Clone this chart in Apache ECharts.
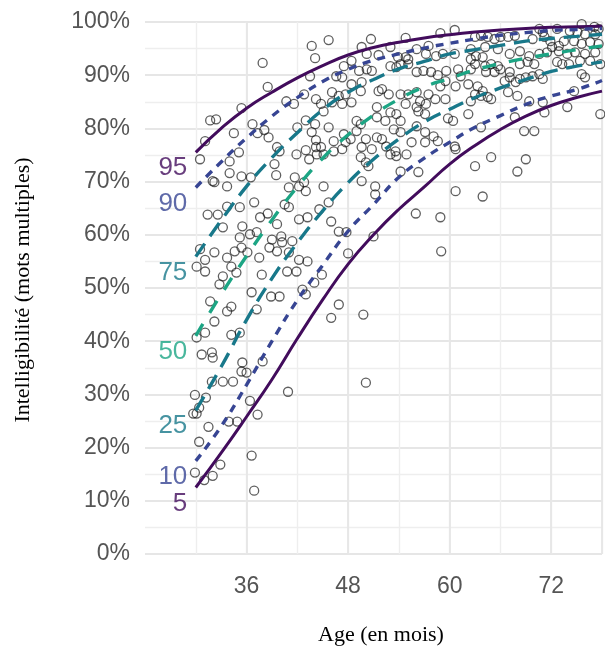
<!DOCTYPE html>
<html><head><meta charset="utf-8">
<script src="https://cdn.jsdelivr.net/npm/echarts@6/dist/echarts.min.js"></script>
<style>html,body{margin:0;padding:0;background:#fff}#c{width:605px;height:648px}</style>
</head><body><div id="c"></div><script>
// ---- data ----
const curveAges = [30,33,36,39,42,45,48,51,54,57,60,63,66,69,72,75,78];
const p95 = [0.755,0.800,0.838,0.868,0.895,0.918,0.938,0.952,0.962,0.970,0.976,0.981,0.985,0.988,0.990,0.991,0.992];
const p90 = [0.689,0.737,0.782,0.823,0.858,0.888,0.911,0.928,0.940,0.951,0.960,0.968,0.975,0.980,0.984,0.986,0.988];
const p75 = [0.559,0.627,0.691,0.745,0.792,0.835,0.868,0.892,0.912,0.926,0.940,0.948,0.956,0.964,0.969,0.973,0.977];
const p50 = [0.410,0.488,0.560,0.628,0.690,0.744,0.788,0.825,0.855,0.878,0.894,0.910,0.922,0.932,0.940,0.948,0.955];
const p25 = [0.270,0.352,0.440,0.518,0.585,0.645,0.698,0.742,0.780,0.812,0.836,0.858,0.876,0.892,0.907,0.917,0.925];
const p10 = [0.175,0.240,0.318,0.400,0.477,0.543,0.607,0.657,0.708,0.744,0.774,0.802,0.824,0.845,0.861,0.873,0.890];
const p5  = [0.125,0.190,0.258,0.328,0.405,0.478,0.545,0.600,0.648,0.690,0.733,0.768,0.798,0.823,0.843,0.858,0.870];
const curveNames = ['95','90','75','50','25','10','5'];
const xTickLabels = [36,48,60,72];

// observed points: age (months), intelligibility (%)
const ageA = [43.7,44.1,37.9,38.5,35.4,31.7,32.4,31.1,30.5,34.5,36.7,37.3,38.1,38.6,35.1,34.0,34.0,35.4,36.5,32.0,32.2,33.7,39.6,39.9,39.3,39.5,40.7,41.6,42.8,43.5,44.2,44.8,45.1,42.0,43.0,44.1,43.7,44.2,43.0,44.2,44.8,44.3,45.1,43.4,41.9,41.7,41.0,42.2,42.8,43.0,45.1];
const pctA = [95.5,93.2,92.3,87.8,83.8,81.5,81.7,77.6,74.2,79.1,80.8,79.1,79.7,78.3,75.5,73.8,71.6,71.0,70.8,70.1,69.9,69.1,76.5,75.7,73.3,71.2,85.1,84.6,86.4,89.8,85.5,84.6,83.2,80.2,81.5,80.8,79.3,77.8,75.9,76.5,76.5,75.1,75.1,74.2,75.1,70.8,68.9,69.1,69.9,68.2,69.1];

const ageB = [60.6,58.9,54.8,50.7,45.7,49.6,53.0,56.1,57.5,51.6,53.9,54.8,55.1,57.2,58.4,59.2,60.6,50.2,47.5,48.4,49.3,46.6,47.3,50.2,50.8,53.0,53.7,54.2,55.1,56.1,56.9,57.8,58.6,59.6,61.0,61.3,58.9,59.5,60.7,48.4,49.6,46.1,46.9,47.7,49.5,51.6,52.0,52.8,54.2,55.1,56.1,57.5,58.3,59.5,56.5,57.2,56.1,54.8,46.1,47.3,48.4,51.4,53.0,53.7,54.2,52.4,51.4,56.3,57.1,59.8,60.4,45.7,49.0,49.5,49.0,47.5,48.3,50.1,51.4,52.0,53.4,54.2,56.1,57.1,58.1,58.6,57.1,55.5,52.5,53.6,60.6,60.7,46.3,46.3,47.3,47.7,49.6,50.8,50.1,49.5,50.4,53.0,54.9,53.7,54.2,56.3,49.6,51.2,51.2,60.7];
const pctB = [98.5,97.9,97.0,96.8,96.6,95.3,95.3,94.9,95.5,93.8,93.4,93.4,93.0,94.0,93.6,94.0,94.0,94.0,91.7,92.7,90.8,89.8,89.6,91.1,90.8,91.7,91.5,92.1,92.1,90.6,90.8,90.6,90.0,90.8,91.1,89.8,87.9,88.9,87.9,88.3,88.7,86.8,86.1,86.4,87.0,87.0,87.4,86.4,86.4,86.4,86.8,86.4,85.5,85.5,85.1,84.6,84.0,84.6,84.9,84.6,84.9,84.0,83.0,82.7,81.4,81.4,82.1,83.2,82.7,81.9,81.4,80.2,81.4,80.8,79.5,78.9,78.0,78.0,78.3,78.0,79.8,79.3,80.4,79.3,78.5,77.6,77.4,77.4,76.6,75.7,76.6,76.1,77.6,75.7,76.1,77.4,76.5,76.1,73.6,74.6,72.9,75.1,75.1,74.8,71.9,71.8,70.1,69.1,67.6,68.2];

const ageC = [75.6,77.1,77.6,70.6,71.0,72.7,74.2,75.1,76.0,77.2,67.7,66.9,66.0,65.3,64.5,63.7,63.0,69.8,71.2,71.9,72.9,72.1,73.5,74.7,75.6,76.6,77.6,62.5,64.2,65.7,67.1,68.3,69.4,70.6,71.5,72.9,73.9,74.8,76.0,77.2,72.7,73.3,74.1,75.4,76.6,77.8,62.5,63.1,63.9,63.0,64.2,64.9,65.7,66.0,62.5,64.3,65.3,67.1,68.3,69.2,70.0,67.1,69.0,69.8,70.6,75.6,76.0,62.2,63.3,63.9,66.5,67.8,68.3,71.0,63.0,63.7,64.5,66.9,68.0,69.4,71.0,74.7,62.5,64.9,62.2,67.7,71.2,73.9,77.8,63.7,68.8,70.0,64.9,63.0,69.0,68.0,63.9];
const pctC = [99.6,99.1,98.7,98.7,98.1,98.7,98.3,98.1,97.7,97.7,97.4,97.2,97.2,96.8,97.2,97.4,97.2,96.8,97.2,96.4,95.5,95.3,96.4,96.4,95.9,96.2,95.9,94.9,95.3,94.9,94.0,94.5,93.6,94.0,94.3,94.5,94.0,94.3,94.0,94.3,92.5,92.1,92.1,92.7,92.7,92.1,93.0,93.6,93.4,92.1,91.7,92.1,91.7,91.1,91.1,90.6,90.6,90.6,92.1,92.5,92.1,89.6,89.6,89.8,90.2,90.2,89.6,88.3,87.9,87.0,88.9,88.7,89.3,89.3,86.4,86.1,85.9,86.8,86.1,85.1,84.9,87.0,85.1,85.5,82.7,82.1,83.0,84.0,82.7,80.2,79.5,79.5,74.6,72.9,74.2,71.9,67.2];

const ageD = [36.9,33.7,31.4,32.6,33.2,35.2,37.6,38.5,39.6,41.0,40.5,35.5,36.4,35.2,37.2,39.0,40.1,40.2,41.4,38.7,39.6,41.0,35.4,34.6,36.1,30.5,32.2,31.1,30.1,31.1,33.7,34.2,34.8,37.5,42.2,43.2,37.8,40.8,41.9,33.2,32.8,42.6,43.0,36.6,38.9,39.9,31.7,34.2,33.7,37.2,32.2,30.1,31.1,34.2,35.2,30.7,31.9,32.0,35.5,35.4,36.0,37.9,31.9,33.2,34.4,44.6,43.2,42.2,44.9,44.0,45.7];
const pctD = [66.1,65.3,63.8,63.8,61.4,65.2,63.3,64.0,62.0,65.2,65.7,61.6,60.1,59.5,60.5,59.1,59.7,58.6,58.8,57.6,56.9,56.7,57.6,56.9,56.7,57.3,56.7,55.3,54.0,53.1,55.7,54.0,52.9,55.7,55.3,55.0,52.5,53.1,53.1,52.2,50.7,49.7,48.8,49.2,48.4,48.4,47.5,46.5,45.6,46.0,43.7,40.7,41.6,41.2,41.6,37.5,37.9,36.9,36.0,34.3,34.1,36.2,32.4,32.4,32.4,64.8,63.3,62.9,52.5,51.0,66.1];

const ageE = [46.0,46.9,47.8,51.0,56.0,58.9,59.0,48.0,46.9,46.0,49.8,50.1];
const pctE = [62.5,60.6,60.5,59.7,64.0,63.3,56.9,56.5,46.9,44.4,45.0,32.2];

const ageF = [29.9,31.2,30.4,29.7,30.1,31.5,33.9,34.9,36.4,37.3,40.9,30.4,36.6,32.9,29.9,31.0,32.0,36.9];
const pctF = [29.9,29.4,27.5,26.4,26.4,23.9,24.9,24.9,28.8,26.2,30.5,21.1,18.5,16.8,15.3,13.9,14.7,11.9];

// ---- build ----
const pointAge = [].concat(ageA, ageB, ageC, ageD, ageE, ageF);
const pointPct = [].concat(pctA, pctB, pctC, pctD, pctE, pctF);
const points = pointAge.map((a, i) => [a, pointPct[i] / 100]);

const curves = [p95, p90, p75, p50, p25, p10, p5];
const colors = ['#420c5c', '#374593', '#18788a', '#1ca584', '#18788a', '#374593', '#420c5c'];
const dashes = ['solid', [8, 7], [16, 9], [14, 13], [16, 9], [8, 7], 'solid'];
const widths = [3, 3.4, 3.4, 3.4, 3.4, 3.4, 3];

const sans = '"Liberation Sans", Arial, sans-serif';
const serif = '"Liberation Serif", "Times New Roman", serif';

const lineSeries = curves.map((c, k) => ({
  type: 'line', name: curveNames[k], smooth: 0.5, symbol: 'none', z: 3,
  data: curveAges.map((a, i) => [a, c[i]]),
  lineStyle: { color: colors[k], width: widths[k], type: dashes[k], cap: 'butt' }
}));

const chart = echarts.init(document.getElementById('c'), null, { renderer: 'canvas' });
chart.setOption({
  animation: false,
  backgroundColor: '#ffffff',
  grid: { left: 145, right: 0, top: 22, bottom: 94 },
  xAxis: [
    {
      type: 'value', min: 24, max: 78, interval: 12, position: 'bottom', z: 1,
      axisLine: { show: false }, axisTick: { show: false },
      axisLabel: { formatter: v => xTickLabels.includes(v) ? String(v) : '', color: '#555', fontSize: 23, fontFamily: sans, margin: 21 },
      splitLine: { show: true, showMinLine: false, lineStyle: { color: '#e6e6e6', width: 1.8 } }
    },
    {
      type: 'value', min: 24, max: 78, interval: 6, position: 'top', z: 0,
      axisLine: { show: false }, axisTick: { show: false }, axisLabel: { show: false },
      splitLine: { show: true, showMinLine: false, lineStyle: { color: '#eeeeee', width: 1.4 } }
    }
  ],
  yAxis: {
    type: 'value', min: 0, max: 1, interval: 0.1,
    axisLine: { show: false }, axisTick: { show: false },
    axisLabel: { formatter: v => Math.round(v * 100) + '%', color: '#555', fontSize: 23, fontFamily: sans, margin: 15 },
    splitLine: { show: true, lineStyle: { color: '#e6e6e6', width: 1.8 } },
    minorTick: { show: false, splitNumber: 2 },
    minorSplitLine: { show: true, lineStyle: { color: '#eeeeee', width: 1.4 } }
  },
  series: [
    {
      type: 'scatter', name: 'obs', symbol: 'circle', symbolSize: 9, z: 2,
      data: points,
      itemStyle: { color: 'rgba(0,0,0,0)', borderColor: 'rgba(20,20,20,0.85)', borderWidth: 1.3 }
    },
    ...lineSeries,
    {
      type: 'scatter', name: 'labels', symbolSize: 0, z: 4, silent: true,
      data: curves.map((c, k) => ({ name: curveNames[k], value: [29.0, c[0] - 0.03],
        label: { color: colors[k] } })),
      label: { show: true, position: 'inside', align: 'right', verticalAlign: 'middle',
        formatter: '{b}', fontSize: 26, fontFamily: sans }
    }
  ],
  graphic: [
    { type: 'text', x: 381, y: 635, style: { text: 'Age (en mois)', font: '22px ' + serif, fill: '#000', align: 'center', verticalAlign: 'middle' } },
    { type: 'text', x: 23, y: 290, rotation: Math.PI / 2, style: { text: 'Intelligibilité (mots multiples)', font: '22px ' + serif, fill: '#000', align: 'center', verticalAlign: 'middle' } }
  ]
});
</script></body></html>
